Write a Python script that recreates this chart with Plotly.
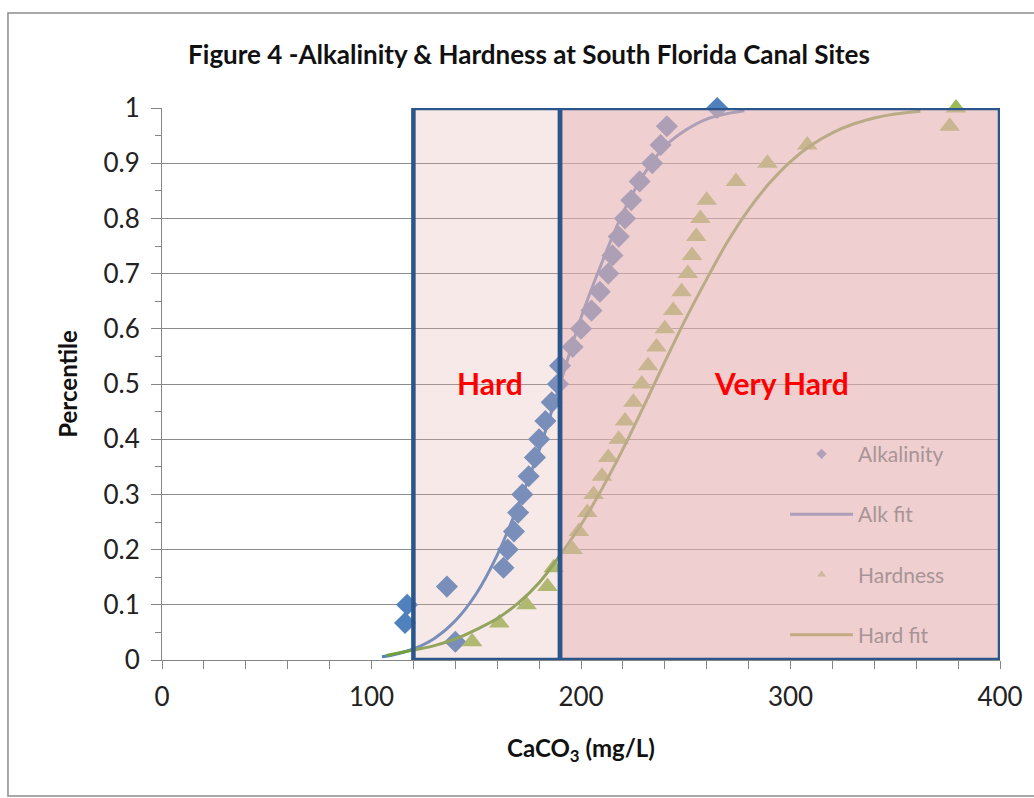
import plotly.graph_objects as go

# ---- data ----
alk_x = [140, 116, 117, 136, 163, 165, 168, 170, 172, 175, 178, 180, 183, 186, 189,
         190, 196, 200, 205, 209, 213, 215, 218, 221, 224, 228, 234, 238, 241, 265]
alk_y = [0.033, 0.067, 0.100, 0.133, 0.167, 0.200, 0.233, 0.267, 0.300, 0.333, 0.367,
         0.400, 0.433, 0.467, 0.500, 0.533, 0.567, 0.600, 0.633, 0.667, 0.700, 0.733,
         0.767, 0.800, 0.833, 0.867, 0.900, 0.933, 0.967, 1.000]

hard_x = [148, 161, 174, 184, 187, 196, 199, 203, 206, 210, 213, 218, 221, 225, 229,
          232, 236, 240, 244, 248, 251, 253, 255, 257, 260, 274, 289, 308, 376, 379]
hard_y = [0.033, 0.067, 0.100, 0.133, 0.167, 0.200, 0.233, 0.267, 0.300, 0.333, 0.367,
          0.400, 0.433, 0.467, 0.500, 0.533, 0.567, 0.600, 0.633, 0.667, 0.700, 0.733,
          0.767, 0.800, 0.833, 0.867, 0.900, 0.933, 0.967, 1.000]

alkfit_x = [105, 110, 120, 130, 140, 150, 160, 170, 180, 190, 200, 210, 220, 230, 240,
            250, 260, 270, 278]
alkfit_y = [0.006, 0.009, 0.020, 0.039, 0.071, 0.12, 0.19, 0.28, 0.38, 0.50, 0.62,
            0.72, 0.81, 0.88, 0.93, 0.96, 0.98, 0.99, 0.995]

hardfit_x = [107, 120, 130, 140, 150, 160, 170, 180, 190, 200, 210, 220, 230, 240, 250,
             260, 270, 280, 290, 300, 310, 320, 330, 340, 350, 362]
hardfit_y = [0.008, 0.018, 0.026, 0.038, 0.055, 0.075, 0.103, 0.14, 0.19, 0.245, 0.31,
             0.382, 0.46, 0.54, 0.618, 0.69, 0.758, 0.816, 0.864, 0.903, 0.933, 0.955,
             0.971, 0.982, 0.989, 0.994]

zones = [("Hard", 120, 190, 0.28, 156.6), ("Very Hard", 190, 400, 0.62, 295.5)]

FONT = "Lato"
BLUE = "#4f81bd"
GREEN = "#9bbb59"
DKGREEN = "#74a040"

fig = go.Figure()

fig.add_trace(go.Scatter(x=alk_x, y=alk_y, mode="markers", name="Alkalinity",
                         marker=dict(symbol="diamond", size=17, color=BLUE),
                         cliponaxis=False, showlegend=False))
fig.add_trace(go.Scatter(x=alkfit_x, y=alkfit_y, mode="lines", name="Alk fit",
                         line=dict(color=BLUE, width=3, shape="spline"),
                         showlegend=False))
fig.add_trace(go.Scatter(x=hard_x, y=hard_y, mode="markers", name="Hardness",
                         marker=dict(symbol="triangle-up", size=18, color=GREEN),
                         cliponaxis=False, showlegend=False))
fig.add_trace(go.Scatter(x=hardfit_x, y=hardfit_y, mode="lines", name="Hard fit",
                         line=dict(color=DKGREEN, width=3, shape="spline"),
                         showlegend=False))

# legend entries (faded, as they sit under the pink overlay in the reference)
fig.add_trace(go.Scatter(x=[None], y=[None], mode="markers", name="Alkalinity",
                         legendgroup="a",
                         marker=dict(symbol="diamond", size=8, color="rgb(176,160,186)")))
fig.add_trace(go.Scatter(x=[None], y=[None], mode="lines", name="Alk fit",
                         legendgroup="b",
                         line=dict(color="rgb(172,158,184)", width=3)))
fig.add_trace(go.Scatter(x=[None], y=[None], mode="markers", name="Hardness",
                         legendgroup="c",
                         marker=dict(symbol="triangle-up", size=8, color="rgb(206,184,162)")))
fig.add_trace(go.Scatter(x=[None], y=[None], mode="lines", name="Hard fit",
                         legendgroup="d",
                         line=dict(color="rgb(196,170,130)", width=3)))

shapes = []
for name, x0, x1, alpha, tx in zones:
    shapes.append(dict(type="rect", xref="x", yref="y", x0=x0, x1=x1, y0=0, y1=1,
                       fillcolor=f"rgba(229,177,177,{alpha})",
                       line=dict(color="#2b568c", width=4.5), layer="above"))
# outer chart frame
shapes.append(dict(type="rect", xref="paper", yref="paper", x0=-0.1838, x1=1.08,
                   y0=-0.2464, y1=1.172, line=dict(color="#8c8c8c", width=1.5),
                   fillcolor="rgba(0,0,0,0)", layer="below"))

annotations = []
for name, x0, x1, alpha, tx in zones:
    annotations.append(dict(x=tx, y=0.502, xref="x", yref="y", text=f"<b>{name}</b>",
                            showarrow=False,
                            font=dict(family=FONT, size=30, color="#ff0000")))

fig.update_layout(
    width=1034, height=798,
    margin=dict(l=162, r=34, t=108, b=138),
    paper_bgcolor="white", plot_bgcolor="white",
    font=dict(family=FONT, color="#222222"),
    title=dict(text="<b>Figure 4 -Alkalinity & Hardness at South Florida Canal Sites</b>",
               x=529 / 1034, xanchor="center", xref="container",
               y=1 - 55 / 798, yanchor="middle", yref="container",
               font=dict(family=FONT, size=26, color="#111111")),
    shapes=shapes, annotations=annotations,
    showlegend=True,
    legend=dict(x=0.7435, y=0.41, xanchor="left", yanchor="top",
                bgcolor="rgba(0,0,0,0)", itemwidth=63, tracegroupgap=30,
                font=dict(family=FONT, size=21, color="rgb(168,148,150)")),
)

fig.update_xaxes(range=[0, 400], dtick=100, tick0=0, showgrid=False, zeroline=False,
                 showline=True, linecolor="#868686", linewidth=1,
                 ticks="outside", ticklen=8, tickcolor="#868686", ticklabelstandoff=6,
                 minor=dict(dtick=20, ticks="outside", ticklen=8, tickcolor="#868686"),
                 tickfont=dict(family=FONT, size=26, color="#222222"),
                 title=dict(text="<b>CaCO<sub>3</sub> (mg/L)</b>", standoff=28,
                            font=dict(family=FONT, size=24, color="#111111")))
fig.update_yaxes(range=[0, 1], dtick=0.1, tick0=0, showgrid=True, gridcolor="#8a8a8a",
                 gridwidth=1, zeroline=False,
                 showline=True, linecolor="#868686", linewidth=1,
                 ticks="outside", ticklen=10, tickcolor="#868686", ticklabelstandoff=6,
                 minor=dict(dtick=0.05, ticks="outside", ticklen=6, tickcolor="#868686",
                            showgrid=False),
                 tickfont=dict(family=FONT, size=26, color="#222222"),
                 title=dict(text="<b>Percentile</b>", standoff=19,
                            font=dict(family=FONT, size=24, color="#111111")))

fig.write_html("out.html")
